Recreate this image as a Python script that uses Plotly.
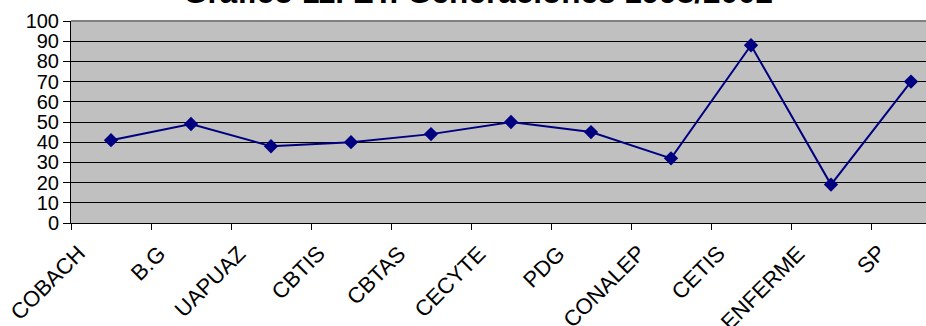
import plotly.graph_objects as go

categories = ["COBACH", "B.G", "UAPUAZ", "CBTIS", "CBTAS", "CECYTE", "PDG",
              "CONALEP", "CETIS", "ENFERME", "SP"]
values = [41, 49, 38, 40, 44, 50, 45, 32, 88, 19, 70]
y_ticks = list(range(0, 101, 10))
title_text = "Gráfico 11. ET. Generaciones 1998/2002"

fig = go.Figure(go.Scatter(
    x=categories, y=values, mode="lines+markers",
    line=dict(color="#000080", width=2),
    marker=dict(symbol="diamond", size=11, color="#000080"),
    cliponaxis=False,
))

# category labels drawn as rotated annotations anchored on the category axis
label_annotations = [
    dict(text=c, xref="x", yref="y", x=c, y=0, xanchor="right", yanchor="top",
         textangle=-45, xshift=-18, yshift=-15, showarrow=False,
         font=dict(size=22, color="black"))
    for c in categories
]

fig.update_layout(
    width=926, height=326,
    margin=dict(l=71, r=0, t=21, b=103),
    paper_bgcolor="white", plot_bgcolor="#C0C0C0",
    showlegend=False,
    font=dict(family="Liberation Sans, Arial, sans-serif", color="black"),
    shapes=[dict(type="line", xref="paper", yref="paper", x0=0, x1=1, y0=1, y1=1,
                 line=dict(color="#808080", width=2))],
    annotations=[dict(text="<b>" + title_text + "</b>", xref="paper", yref="paper",
                      x=(477.5 - 71) / 855, y=1.047, xanchor="center", yanchor="bottom",
                      showarrow=False, font=dict(size=31.5, color="black"))]
                + label_annotations,
)

fig.update_xaxes(
    type="category", range=[-0.5, 10.1875], tickson="boundaries",
    ticks="outside", ticklen=6, tickcolor="black", tickwidth=1,
    showline=True, linecolor="black", linewidth=1,
    showticklabels=False,
    showgrid=False, zeroline=False, automargin=False,
)
fig.update_yaxes(
    range=[0, 100], tickvals=y_ticks, ticks="outside", ticklen=7,
    tickcolor="black", showline=True, linecolor="black", linewidth=1,
    showgrid=True, gridcolor="black", gridwidth=1,
    tickfont=dict(size=20), zeroline=False, automargin=False,
)

fig.write_html(
    "out.html",
    config={"displayModeBar": False},
    post_script="document.body.style.margin='0';document.body.style.overflow='hidden';",
)
